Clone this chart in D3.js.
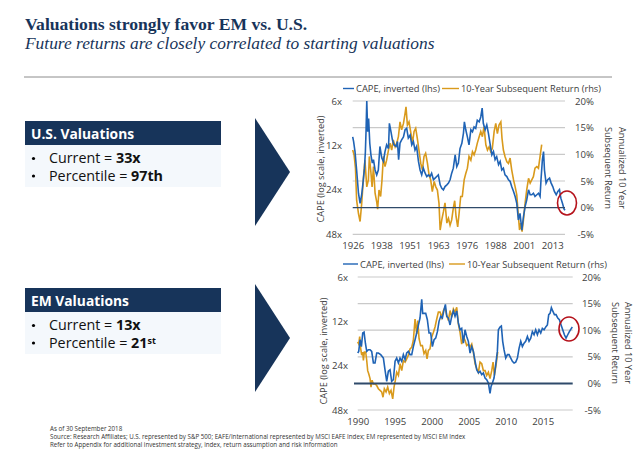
<!DOCTYPE html>
<html>
<head>
<meta charset="utf-8">
<script src="https://cdnjs.cloudflare.com/ajax/libs/d3/7.8.5/d3.min.js"></script>
<style>
  html, body { margin: 0; padding: 0; background: #fff; }
  svg { display: block; }
  text { font-family: "Open Sans", sans-serif; }
  .axis text { font-size: 9.6px; fill: #404040; font-family: "Open Sans", sans-serif; }
</style>
</head>
<body>
<svg id="chart" width="639" height="453"></svg>
<script>
var leftTicks   = [6, 12, 24, 48];
var rightTicks  = [-5, 0, 5, 10, 15, 20];

var usTickYears  = [1926, 1938.4, 1950.7, 1963.1, 1975.4, 1987.8, 2000.1, 2012.5];
var usTickLabels = ["1926", "1938", "1951", "1963", "1976", "1988", "2001", "2013"];
var emTickYears  = [1990, 1995, 2000, 2005, 2010, 2015];
var emTickLabels = ["1990", "1995", "2000", "2005", "2010", "2015"];

var usCapeYears = [1926.0,1926.4,1927.0,1927.7,1928.5,1929.2,1929.9,1930.6,1931.1,1931.5,1931.8,1932.1,1932.5,1932.9,1933.4,1933.9,1934.5,1935.0,1935.7,1936.4,1937.1,1937.8,1938.6,1939.3,1940.0,1940.7,1941.5,1941.9,1942.6,1943.2,1943.9,1944.8,1945.4,1945.9,1946.5,1947.2,1948.0,1948.7,1949.4,1950.1,1950.9,1951.6,1952.3,1953.0,1953.7,1954.5,1955.2,1955.9,1956.6,1957.4,1958.1,1958.8,1959.5,1960.2,1961.0,1961.7,1962.4,1963.1,1963.9,1964.6,1965.3,1966.0,1966.8,1967.5,1968.2,1968.9,1969.6,1970.4,1971.1,1971.8,1972.5,1973.3,1974.0,1974.4,1975.0,1975.7,1976.4,1977.2,1977.9,1978.6,1979.3,1980.0,1980.8,1981.5,1982.1,1982.6,1983.4,1984.1,1984.8,1985.5,1986.3,1987.0,1987.7,1988.4,1989.2,1989.9,1990.6,1991.3,1992.0,1992.8,1993.5,1994.2,1994.9,1995.7,1996.4,1997.1,1997.8,1998.5,1999.3,2000.0,2000.7,2001.4,2002.2,2002.9,2003.6,2004.3,2005.0,2005.8,2006.5,2007.2,2007.6,2008.2,2008.7,2009.1,2009.8,2010.5,2011.3,2012.0,2012.7,2013.4,2014.2,2014.9,2015.6,2016.2,2016.9,2017.6,2018.0];
var usCape = [10.5,11.3,13.2,17.6,25.3,29.6,25.9,20.5,17.1,13.2,9.4,6.0,9.7,7.9,11.6,13.9,15.8,15.0,17.6,19.0,17.6,12.2,14.6,15.4,13.2,11.9,12.6,8.5,9.7,11.0,11.9,12.2,11.3,15.0,11.6,11.0,10.5,9.4,9.2,10.7,10.2,11.9,11.3,12.9,12.2,15.4,17.6,19.0,17.1,18.5,19.5,19.0,19.5,18.5,20.5,20.0,19.5,19.0,22.2,23.4,24.0,22.8,22.2,21.6,20.5,18.5,17.1,13.9,16.7,15.8,12.6,11.6,9.9,8.3,9.4,10.5,11.9,9.4,9.7,9.0,9.2,8.1,8.3,7.7,6.7,8.5,9.4,8.7,9.9,11.6,13.9,13.2,15.0,14.3,16.2,15.4,17.6,17.1,19.0,19.5,20.5,21.0,22.8,24.6,26.6,29.6,38.4,34.6,45.0,36.5,31.2,28.1,24.0,25.9,25.9,25.3,26.6,25.9,25.3,26.6,20.5,15.0,13.2,17.6,21.6,20.5,20.0,21.6,22.8,24.6,25.9,24.6,23.9,27.3,29.6,32.4,33.0];

var usReturnYears = [1926.0,1926.6,1927.2,1927.7,1928.5,1929.2,1929.9,1930.6,1931.3,1932.1,1932.8,1933.2,1933.8,1934.4,1935.0,1935.7,1936.4,1936.8,1937.4,1938.1,1938.7,1939.3,1940.0,1940.7,1941.5,1942.2,1942.9,1943.6,1944.4,1945.1,1945.8,1946.5,1947.2,1948.0,1948.7,1949.1,1949.7,1950.4,1951.1,1951.9,1952.6,1953.3,1954.0,1954.8,1955.5,1956.2,1956.9,1957.6,1958.4,1959.1,1959.8,1960.5,1961.3,1962.0,1962.7,1963.4,1963.9,1964.6,1965.3,1966.0,1966.8,1967.5,1968.2,1968.9,1969.6,1970.2,1970.8,1971.5,1972.1,1972.8,1973.5,1974.3,1975.0,1975.7,1976.4,1977.2,1977.9,1978.6,1979.3,1980.0,1980.8,1981.5,1982.2,1982.9,1983.7,1984.4,1985.1,1985.8,1986.5,1987.3,1988.0,1988.7,1989.4,1990.2,1990.7,1991.3,1992.0,1992.8,1993.5,1994.2,1994.9,1995.7,1996.4,1997.1,1997.7,1998.3,1998.8,1999.4,2000.0,2000.7,2001.4,2002.2,2002.9,2003.6,2004.3,2005.0,2005.8,2006.5,2007.2,2007.9];
var usReturn = [10.8,9.9,7.4,1.4,-1.1,-2.6,0.8,5.2,8.9,3.9,5.2,9.6,7.1,3.9,7.7,2.7,1.1,-0.3,3.3,2.1,5.2,9.6,7.7,8.9,10.8,12.1,10.8,12.7,11.4,12.1,13.3,16.1,14.6,15.8,17.7,18.9,15.5,16.1,14.3,12.1,14.3,14.9,13.0,10.5,8.3,7.1,9.6,10.2,8.3,6.1,5.2,3.0,4.9,3.9,3.3,0.8,-4.2,-2.3,-0.8,0.9,-2.9,-2.0,-3.3,-2.3,-0.1,1.3,-1.7,-3.6,-1.1,2.1,2.1,5.2,6.4,7.4,9.6,8.9,10.5,9.9,10.8,12.1,13.3,14.3,13.3,15.2,11.8,10.8,11.4,10.5,11.1,14.3,15.8,13.9,15.5,16.1,13.0,10.8,9.6,8.6,8.3,9.3,7.1,5.2,3.9,2.4,-1.1,-4.2,-2.9,-4.5,-2.3,0.8,3.3,5.5,4.6,5.2,5.8,7.4,7.7,7.4,9.6,11.8];

var emCapeYears = [1990.00,1990.14,1990.32,1990.50,1990.68,1990.86,1991.04,1991.22,1991.44,1991.67,1991.89,1992.12,1992.34,1992.57,1992.79,1993.11,1993.47,1993.69,1993.92,1994.14,1994.37,1994.59,1994.82,1995.05,1995.27,1995.50,1995.72,1995.95,1996.17,1996.40,1996.62,1996.85,1997.07,1997.30,1997.52,1997.75,1997.97,1998.20,1998.42,1998.65,1998.78,1998.96,1999.19,1999.41,1999.64,1999.86,2000.09,2000.32,2000.54,2000.77,2000.99,2001.22,2001.44,2001.67,2001.85,2002.03,2002.25,2002.48,2002.70,2002.93,2003.15,2003.38,2003.60,2003.83,2004.05,2004.28,2004.50,2004.73,2004.95,2005.18,2005.41,2005.63,2005.86,2006.08,2006.31,2006.53,2006.76,2006.98,2007.21,2007.43,2007.66,2007.88,2008.02,2008.20,2008.42,2008.65,2008.87,2009.01,2009.23,2009.41,2009.59,2009.77,2010.00,2010.23,2010.45,2010.68,2010.90,2011.13,2011.35,2011.58,2011.80,2012.03,2012.25,2012.48,2012.70,2012.93,2013.15,2013.38,2013.60,2013.83,2014.05,2014.28,2014.50,2014.73,2014.95,2015.18,2015.41,2015.63,2015.81,2015.99,2016.17,2016.35,2016.58,2016.80,2017.03,2017.25,2017.48,2017.70,2017.93,2018.15,2018.38,2018.60,2018.83,2019.00];
var emCape = [19.7,19.2,16.0,17.8,14.4,14.2,16.9,19.2,18.7,18.7,19.2,23.0,23.0,19.7,19.7,20.2,21.3,25.6,30.7,26.2,25.6,30.7,29.9,22.4,21.3,23.0,21.3,22.4,20.2,21.8,19.7,19.2,20.2,20.2,17.8,16.0,14.4,12.7,11.4,8.5,10.6,10.6,10.6,11.7,14.4,14.4,17.8,16.0,15.6,14.1,12.0,11.1,11.4,10.0,9.2,11.1,11.4,12.7,11.1,10.2,11.1,10.2,12.3,13.7,13.4,16.9,13.7,15.2,16.4,19.7,17.8,19.2,22.4,25.6,26.9,26.2,27.6,26.9,29.1,29.9,31.5,37.0,33.2,31.5,29.1,23.6,19.2,13.7,13.1,12.9,16.4,18.7,21.3,20.2,20.2,21.3,22.4,23.0,22.7,21.3,18.3,16.4,17.8,16.9,16.4,15.2,16.4,15.6,14.1,14.8,13.7,14.8,13.7,14.4,13.4,13.7,13.1,12.7,10.8,10.6,9.7,10.2,10.8,10.8,11.4,11.7,12.7,13.7,14.8,15.6,14.8,14.1,13.5,13.1];

var emReturnYears = [1990.00,1990.14,1990.27,1990.41,1990.54,1990.68,1990.77,1990.90,1991.08,1991.22,1991.35,1991.49,1991.67,1991.80,1991.94,1992.12,1992.34,1992.57,1992.79,1993.02,1993.24,1993.42,1993.60,1993.83,1994.05,1994.28,1994.50,1994.73,1994.91,1995.09,1995.27,1995.50,1995.72,1995.95,1996.17,1996.40,1996.62,1996.85,1997.07,1997.30,1997.52,1997.75,1997.97,1998.11,1998.29,1998.51,1998.74,1998.96,1999.19,1999.37,1999.55,1999.77,2000.00,2000.23,2000.45,2000.68,2000.90,2001.13,2001.35,2001.58,2001.80,2002.03,2002.25,2002.48,2002.70,2002.93,2003.15,2003.38,2003.60,2003.83,2004.05,2004.28,2004.50,2004.73,2004.95,2005.18,2005.41,2005.63,2005.86,2006.08,2006.31,2006.53,2006.76,2006.98,2007.21,2007.43,2007.66,2007.88,2008.11,2008.29,2008.47,2008.69,2008.92];
var emReturn = [7.8,7.4,8.8,6.5,5.3,5.9,4.3,5.9,5.9,4.3,2.4,1.8,0.9,-0.7,0.6,-0.1,-0.1,-0.4,-1.0,-1.3,-1.6,-2.6,-1.0,-1.6,-0.7,-1.9,-1.3,-2.9,-0.7,0.6,2.1,1.5,3.7,2.4,4.3,4.0,4.6,5.3,6.5,6.8,8.1,12.1,9.3,11.8,8.4,7.1,7.1,5.6,6.2,4.6,6.2,6.5,8.7,9.6,10.6,12.1,13.4,13.4,12.4,13.7,14.3,12.8,11.8,13.7,12.4,14.0,13.4,14.3,11.2,9.6,7.4,8.7,8.1,7.1,7.4,6.8,7.4,5.9,3.7,2.8,2.1,4.0,3.7,2.4,2.4,1.5,2.1,0.9,2.4,4.0,1.5,3.4,5.9];

var navy = "#17345a", blue = "#1f63b5", gold = "#d99a1c", red = "#b5121b";
var svg = d3.select("#chart");

// headline
svg.append("text").attr("x", 25).attr("y", 30)
  .style("font-family", "'Liberation Serif', serif").style("font-weight", "bold")
  .style("font-size", "17.6px").attr("fill", navy)
  .text("Valuations strongly favor EM vs. U.S.");
svg.append("text").attr("x", 25).attr("y", 49)
  .style("font-family", "'Liberation Serif', serif").style("font-style", "italic")
  .style("font-size", "17.4px").attr("fill", navy)
  .text("Future returns are closely correlated to starting valuations");
svg.append("line").attr("x1", 24).attr("x2", 612).attr("y1", 77).attr("y2", 77)
  .attr("stroke", "#8c8c8c").attr("stroke-width", 1);

// left hand call-out and arrow
function callout(top, arrowTop, title, current, pct, suffix) {
  svg.append("rect").attr("x", 25).attr("y", top + 23).attr("width", 196).attr("height", 43).attr("fill", "#f4f8fc");
  svg.append("rect").attr("x", 25).attr("y", top).attr("width", 196).attr("height", 24).attr("fill", navy);
  svg.append("text").attr("x", 31).attr("y", top + 18).attr("fill", "#fff")
    .style("font-weight", "bold").style("font-size", "13.8px").text(title);

  var rows = [["Current = ", current, ""], ["Percentile = ", pct, suffix]];
  rows.forEach(function(r, i) {
    var y = top + 42 + i * 17.5;
    svg.append("circle").attr("cx", 33.5).attr("cy", y - 4.5).attr("r", 1.6).attr("fill", "#000");
    var t = svg.append("text").attr("x", 49).attr("y", y).attr("fill", "#111").style("font-size", "14.3px");
    t.append("tspan").text(r[0]);
    t.append("tspan").style("font-weight", "bold").text(r[1]);
    if (r[2] == "th") t.select("tspan:last-child").text(r[1] + "th");
    else if (r[2]) t.append("tspan").attr("dy", -4).style("font-weight", "bold").style("font-size", "9px").text(r[2]);
  });

  svg.append("path").attr("fill", navy)
    .attr("d", d3.line()([[255, arrowTop], [290, arrowTop + 54], [255, arrowTop + 108]]) + "Z");
}
callout(121, 118, "U.S. Valuations", "33x", "97", "th");
callout(288, 284, "EM Valuations", "13x", "21", "st");

// one panel: log inverted CAPE on the left, return % on the right
function drawChart(o) {
  var x = d3.scaleLinear().domain(o.xDomain).range([o.left, o.right]);
  var yL = d3.scaleLog().base(2).domain([6, 48]).range([o.top, o.bottom]);
  var yR = d3.scaleLinear().domain([-5, 20]).range([o.bottom, o.top]);

  // gridlines
  svg.append("g").selectAll("line").data(rightTicks.filter(function(d) { return d != 0; })).enter().append("line")
    .attr("x1", o.left).attr("x2", o.right)
    .attr("y1", function(d) { return yR(d); }).attr("y2", function(d) { return yR(d); })
    .attr("stroke", "#c9c9c9").attr("stroke-width", 1.2);

  var lineCape = d3.line().x(function(d) { return x(d[0]); }).y(function(d) { return yL(d[1]); });
  var lineRet  = d3.line().x(function(d) { return x(d[0]); }).y(function(d) { return yR(d[1]); });

  svg.append("path").datum(d3.zip(o.returnYears, o.returns)).attr("d", lineRet)
    .attr("fill", "none").attr("stroke", gold).attr("stroke-width", 1.6);
  svg.append("path").datum(d3.zip(o.capeYears, o.cape)).attr("d", lineCape)
    .attr("fill", "none").attr("stroke", blue).attr("stroke-width", 1.6);

  // zero line sits on top of the series
  svg.append("line").attr("x1", o.zeroLeft).attr("x2", o.right)
    .attr("y1", yR(0)).attr("y2", yR(0))
    .attr("stroke", "#2f4a6a").attr("stroke-width", o.zeroWidth);

  var gl = svg.append("g").attr("class", "axis").attr("transform", "translate(" + o.leftAxisX + ",0)")
    .call(d3.axisLeft(yL).tickValues(leftTicks).tickSize(0).tickPadding(0).tickFormat(function(d) { return d + "x"; }));
  gl.select(".domain").remove();

  var gr = svg.append("g").attr("class", "axis").attr("transform", "translate(" + o.rightAxisX + ",0)")
    .call(d3.axisLeft(yR).tickValues(rightTicks).tickSize(0).tickPadding(0).tickFormat(function(d) { return d + "%"; }));
  gr.select(".domain").remove();

  var gx = svg.append("g").attr("class", "axis").attr("transform", "translate(0," + o.xAxisY + ")")
    .call(d3.axisBottom(x).tickValues(o.tickYears).tickSize(0).tickPadding(0)
      .tickFormat(function(d, i) { return o.tickLabels[i]; }));
  gx.select(".domain").remove();

  // rotated axis titles
  svg.append("text").attr("transform", "translate(" + o.leftTitleX + "," + o.leftTitleY + ") rotate(-90)")
    .attr("text-anchor", "middle").attr("fill", "#404040").style("font-size", "9.5px")
    .attr("textLength", 107).attr("lengthAdjust", "spacingAndGlyphs")
    .text("CAPE (log scale, inverted)");
  ["Annualized 10 Year", "Subsequent Return"].forEach(function(s, i) {
    svg.append("text").attr("transform", "translate(" + o.rightTitleX[i] + "," + o.rightTitleY + ") rotate(90)")
      .attr("text-anchor", "middle").attr("fill", "#404040").style("font-size", "9.5px")
      .attr("textLength", 82).attr("lengthAdjust", "spacingAndGlyphs").text(s);
  });

  // legend
  var lg = svg.append("g");
  lg.append("line").attr("x1", o.leg[0]).attr("x2", o.leg[1]).attr("y1", o.legY).attr("y2", o.legY).attr("stroke", blue).attr("stroke-width", 1.4);
  lg.append("text").attr("x", o.leg[2]).attr("y", o.legY + 3.5).attr("fill", "#404040").style("font-size", "9.5px")
    .attr("textLength", 84).attr("lengthAdjust", "spacingAndGlyphs").text("CAPE, inverted (lhs)");
  lg.append("line").attr("x1", o.leg[3]).attr("x2", o.leg[4]).attr("y1", o.legY).attr("y2", o.legY).attr("stroke", gold).attr("stroke-width", 1.4);
  lg.append("text").attr("x", o.leg[5]).attr("y", o.legY + 3.5).attr("fill", "#404040").style("font-size", "9.5px")
    .attr("textLength", 140).attr("lengthAdjust", "spacingAndGlyphs").text("10-Year Subsequent Return (rhs)");

  // red ring round the latest reading
  svg.append("ellipse").attr("cx", o.ring[0]).attr("cy", o.ring[1]).attr("rx", o.ring[2]).attr("ry", o.ring[3])
    .attr("fill", "none").attr("stroke", red).attr("stroke-width", 1.6);
}

drawChart({
  left: 352.7, right: 565, top: 101, bottom: 234.3, zeroLeft: 352.7, zeroWidth: 1.4,
  xDomain: [1926, 2018], tickYears: usTickYears, tickLabels: usTickLabels,
  capeYears: usCapeYears, cape: usCape, returnYears: usReturnYears, returns: usReturn,
  leftAxisX: 342, rightAxisX: 594, xAxisY: 242,
  leftTitleX: 323.5, leftTitleY: 169, rightTitleX: [618.5, 605], rightTitleY: 168,
  leg: [343, 354, 356, 442, 459, 461], legY: 88.5, ring: [567, 203, 9.5, 12]
});

drawChart({
  left: 357.7, right: 572.7, top: 277, bottom: 410, zeroLeft: 354, zeroWidth: 2,
  xDomain: [1990, 2019.05], tickYears: emTickYears, tickLabels: emTickLabels,
  capeYears: emCapeYears, cape: emCape, returnYears: emReturnYears, returns: emReturn,
  leftAxisX: 348, rightAxisX: 601, xAxisY: 418,
  leftTitleX: 327, leftTitleY: 351, rightTitleX: [625, 612], rightTitleY: 343,
  leg: [343, 358, 360, 449, 465, 467], legY: 264, ring: [569, 329, 10, 12]
});

// footnotes
var notes = [
  "As of 30 September 2018",
  "Source: Research Affiliates; U.S. represented by S&P 500; EAFE/International represented by MSCI EAFE Index; EM represented by MSCI EM Index",
  "Refer to Appendix for additional investment strategy, index, return assumption and risk information"
];
svg.append("g").selectAll("text").data(notes).enter().append("text")
  .attr("x", 50).attr("y", function(d, i) { return 431 + i * 8; })
  .attr("fill", "#333").style("font-size", "6.2px").text(function(d) { return d; });
</script>
</body>
</html>
